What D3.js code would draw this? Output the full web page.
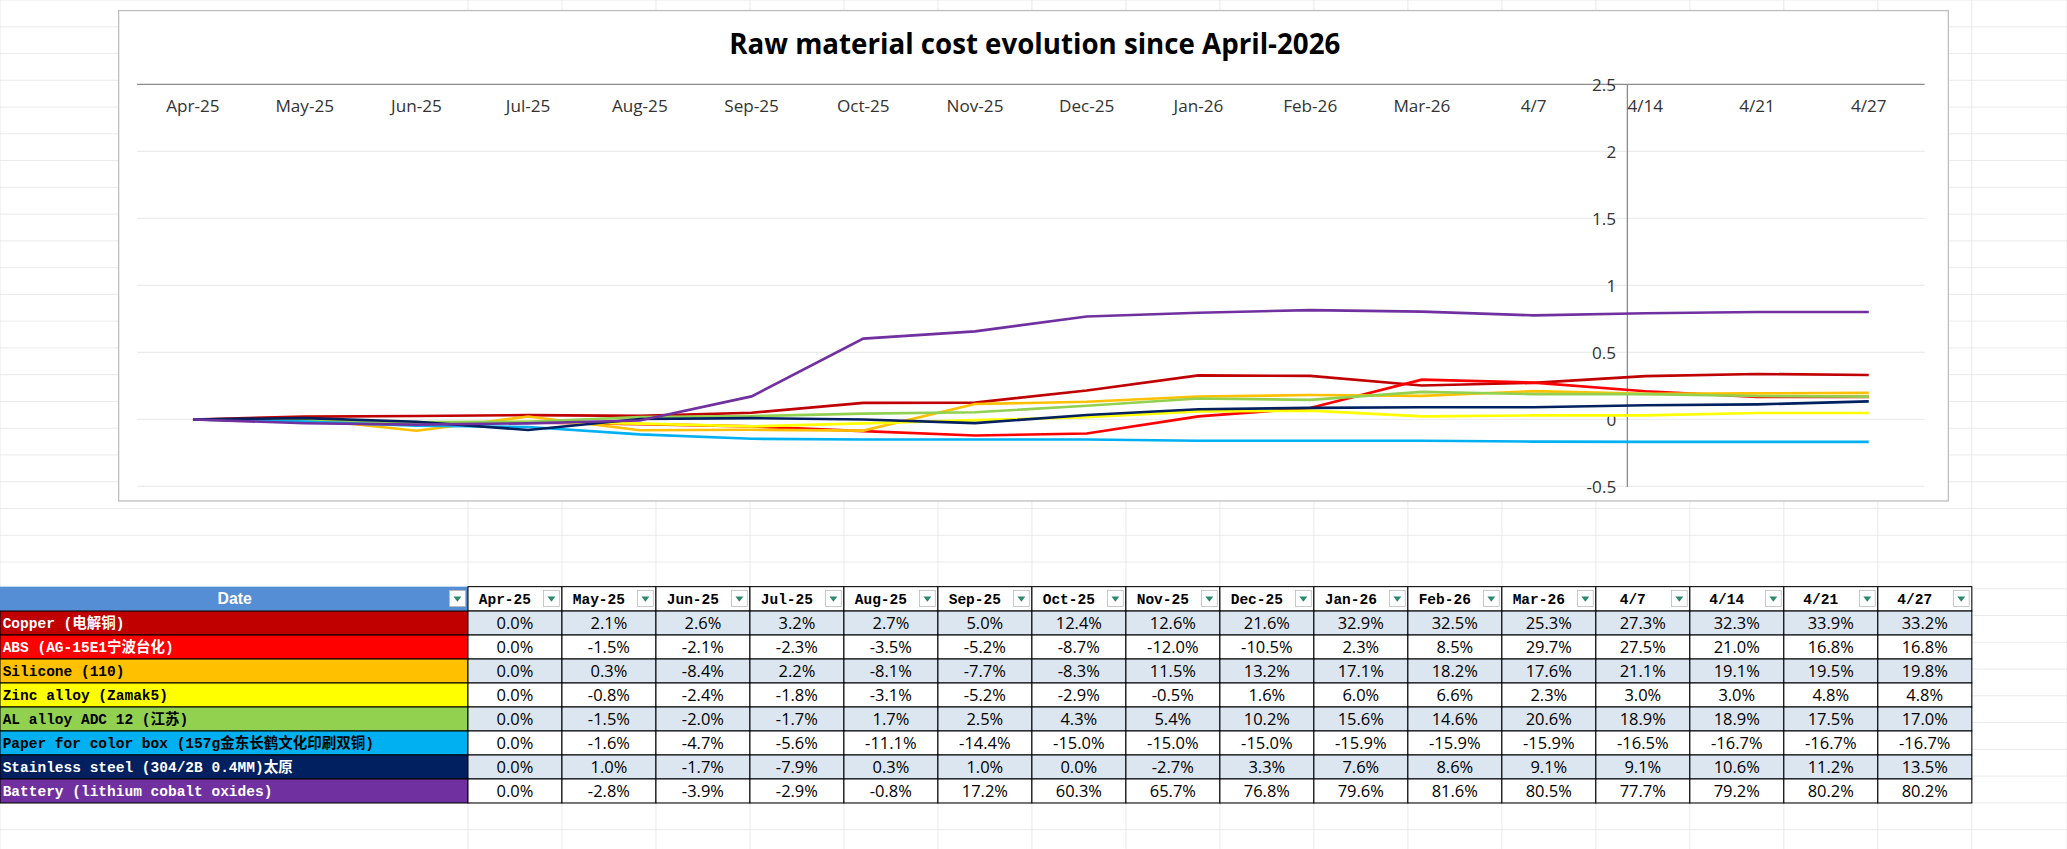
<!DOCTYPE html>
<html><head><meta charset="utf-8">
<script src="https://cdn.jsdelivr.net/npm/d3@7"></script>
<style>body{margin:0;background:#fff;overflow:hidden}</style>
</head><body>
<div id="chart"></div>
<script>
var categories = ["Apr-25","May-25","Jun-25","Jul-25","Aug-25","Sep-25","Oct-25","Nov-25","Dec-25","Jan-26","Feb-26","Mar-26","4/7","4/14","4/21","4/27"];
var materials = ["Copper (电解铜)","ABS (AG-15E1宁波台化)","Silicone (110)","Zinc alloy (Zamak5)","AL alloy ADC 12 (江苏)","Paper for color box (157g金东长鹤文化印刷双铜)","Stainless steel (304/2B 0.4MM)太原","Battery (lithium  cobalt  oxides)"];
var colors = ["#C00000","#FF0000","#FFC000","#FFFF00","#92D050","#00B0F0","#002060","#7030A0"];
var textColors = ["#fff","#fff","#000","#000","#000","#000","#fff","#fff"];
var copper = [0.0,2.1,2.6,3.2,2.7,5.0,12.4,12.6,21.6,32.9,32.5,25.3,27.3,32.3,33.9,33.2];
var abs = [0.0,-1.5,-2.1,-2.3,-3.5,-5.2,-8.7,-12.0,-10.5,2.3,8.5,29.7,27.5,21.0,16.8,16.8];
var silicone = [0.0,0.3,-8.4,2.2,-8.1,-7.7,-8.3,11.5,13.2,17.1,18.2,17.6,21.1,19.1,19.5,19.8];
var zinc = [0.0,-0.8,-2.4,-1.8,-3.1,-5.2,-2.9,-0.5,1.6,6.0,6.6,2.3,3.0,3.0,4.8,4.8];
var alu = [0.0,-1.5,-2.0,-1.7,1.7,2.5,4.3,5.4,10.2,15.6,14.6,20.6,18.9,18.9,17.5,17.0];
var paper = [0.0,-1.6,-4.7,-5.6,-11.1,-14.4,-15.0,-15.0,-15.0,-15.9,-15.9,-15.9,-16.5,-16.7,-16.7,-16.7];
var steel = [0.0,1.0,-1.7,-7.9,0.3,1.0,0.0,-2.7,3.3,7.6,8.6,9.1,9.1,10.6,11.2,13.5];
var battery = [0.0,-2.8,-3.9,-2.9,-0.8,17.2,60.3,65.7,76.8,79.6,81.6,80.5,77.7,79.2,80.2,80.2];
var series = [copper,abs,silicone,zinc,alu,paper,steel,battery];
var yTicks = [-0.5,0,0.5,1,1.5,2,2.5];

var W = 1568, H = 644;
var svg = d3.select("#chart").append("svg")
  .attr("width", 2067).attr("height", 849)
  .attr("viewBox", "0 0 " + W + " " + H);

// sheet gridlines
var gridG = svg.append("g").attr("stroke", "#e4e4e4").attr("stroke-width", 0.6);
d3.range(0, H, 20.3).forEach(function(y){ gridG.append("line").attr("x1",0).attr("x2",W).attr("y1",y).attr("y2",y); });
var colEdges = [0,355].concat(d3.range(1,17).map(function(i){ return 355 + i*71.3; }));
colEdges.concat([1568]).forEach(function(x){ gridG.append("line").attr("x1",x).attr("x2",x).attr("y1",0).attr("y2",H); });

// chart box
svg.append("rect").attr("x",90).attr("y",8).attr("width",1388).attr("height",372)
  .attr("fill","#fff").attr("stroke","#bfbfbf");
svg.append("text").attr("x",785).attr("y",41).attr("text-anchor","middle")
  .attr("font-family","'Liberation Sans Narrow','Open Sans',sans-serif").attr("font-weight","bold")
  .attr("font-size",21).text("Raw material cost evolution since April-2026");

var x = d3.scaleBand().domain(categories).range([104,1460]);
var y = d3.scaleLinear().domain([-0.5,2.5]).range([369,64]);
var axisX = 1234;

svg.append("g").selectAll("line").data(yTicks).join("line")
  .attr("x1",104).attr("x2",1460).attr("y1",function(d){return y(d);}).attr("y2",function(d){return y(d);})
  .attr("stroke",function(d){return d===2.5?"#8c8c8c":"#ececec";}).attr("stroke-width",1);

var yAxis = svg.append("g").attr("transform","translate("+axisX+",0)")
  .call(d3.axisLeft(y).tickValues(yTicks).tickSize(0).tickPadding(8).tickFormat(function(d){return String(d);}));
yAxis.select(".domain").attr("stroke","#8c8c8c");
yAxis.selectAll("text").attr("font-family","'Liberation Sans Narrow','Open Sans',sans-serif").attr("font-size",13).attr("fill","#333");

var xAxis = svg.append("g").attr("transform","translate(0,81)")
  .call(d3.axisBottom(x).tickSize(0).tickPadding(0));
xAxis.select(".domain").remove();
xAxis.selectAll("text").attr("font-family","'Liberation Sans Narrow','Open Sans',sans-serif").attr("font-size",13).attr("fill","#333").attr("dy","0.32em");

var line = d3.line().x(function(d,i){return x(categories[i]) + x.bandwidth()/2;}).y(function(d){return y(d/100);});
svg.append("g").selectAll("path").data(series).join("path")
  .attr("d",line).attr("fill","none").attr("stroke",function(d,i){return colors[i];}).attr("stroke-width",2);

// table
var tblTop = 445, headH = 18.5, rowH = 18.2;
var tbl = svg.append("g");
tbl.append("rect").attr("x",0).attr("y",tblTop).attr("width",355).attr("height",headH).attr("fill","#558ED5");
tbl.append("text").attr("x",178).attr("y",tblTop+13.5).attr("text-anchor","middle").attr("fill","#fff")
  .attr("font-family","'Liberation Sans','Open Sans',sans-serif").attr("font-weight","bold").attr("font-size",12).text("Date");
function arrow(xr, yt) {
  tbl.append("rect").attr("x",xr-14).attr("y",yt+3).attr("width",12).attr("height",12).attr("fill","#fff").attr("stroke","#bbb").attr("stroke-width",0.6);
  tbl.append("path").attr("d","M"+(xr-11)+","+(yt+7.5)+"l6,0l-3,4z").attr("fill","#2b8a6a");
}
arrow(355, tblTop);
categories.forEach(function(c,i){
  var x0 = 355 + i*71.3;
  tbl.append("rect").attr("x",x0).attr("y",tblTop).attr("width",71.3).attr("height",headH).attr("fill","#fff").attr("stroke","#000").attr("stroke-width",0.8);
  tbl.append("text").attr("x",x0+28).attr("y",tblTop+13).attr("text-anchor","middle")
    .attr("font-family","'Liberation Mono','Noto Sans CJK SC',monospace").attr("font-weight","bold").attr("font-size",11).text(c);
  arrow(x0+71.3, tblTop);
});
materials.forEach(function(m,r){
  var yt = tblTop + headH + r*rowH;
  tbl.append("rect").attr("x",0).attr("y",yt).attr("width",355).attr("height",rowH).attr("fill",colors[r]).attr("stroke","#000").attr("stroke-width",0.8);
  tbl.append("text").attr("x",2).attr("y",yt+13).attr("fill",textColors[r])
    .attr("font-family","'Liberation Mono','Noto Sans CJK SC',monospace").attr("font-weight","bold").attr("font-size",11).text(m);
  series[r].forEach(function(v,i){
    var x0 = 355 + i*71.3;
    tbl.append("rect").attr("x",x0).attr("y",yt).attr("width",71.3).attr("height",rowH)
      .attr("fill", r%2===0 ? "#DCE6F1" : "#fff").attr("stroke","#000").attr("stroke-width",0.8);
    tbl.append("text").attr("x",x0+35.6).attr("y",yt+13.5).attr("text-anchor","middle")
      .attr("font-family","'Liberation Sans Narrow','Open Sans',sans-serif").attr("font-size",12.5).text(v.toFixed(1)+"%");
  });
});
</script>
</body></html>
